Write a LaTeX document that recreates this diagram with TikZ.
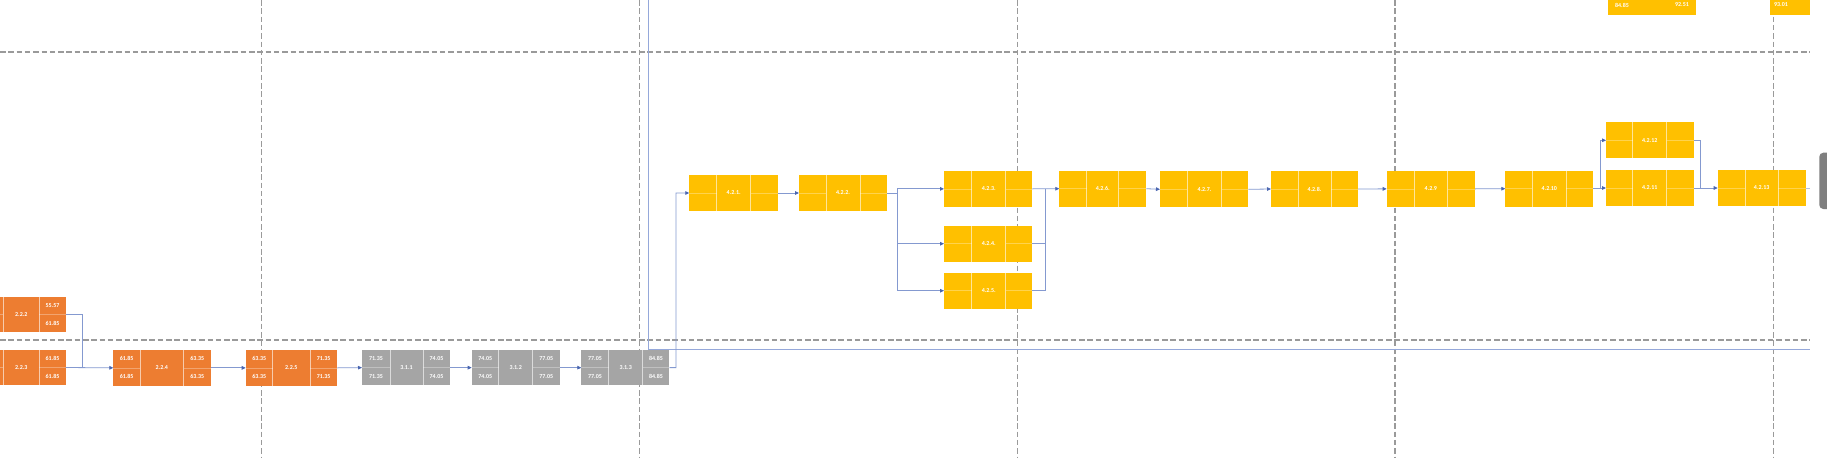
\documentclass[tikz,border=0pt]{standalone}
\usepackage{fontspec}
\newfontfamily\carl{Carlito}
\usetikzlibrary{arrows.meta,calc}
\definecolor{orng}{HTML}{ED7D31}
\definecolor{gry}{HTML}{A5A5A5}
\definecolor{ylw}{HTML}{FFC000}
\definecolor{connc}{HTML}{8499D0}
\definecolor{tipc}{HTML}{4A66B0}
\definecolor{gridc}{HTML}{9A9A9A}
\definecolor{barc}{HTML}{7F7F7F}
\definecolor{nowc}{HTML}{95A8DA}
\tikzset{
  taskbox/.style={draw=none,inner sep=0pt,outer sep=0pt},
  divline/.style={draw=white,draw opacity=0.6,line width=0.7pt},
  hdivline/.style={draw=white,draw opacity=0.3,line width=0.6pt},
  lbl/.style={text=white,font=\carl\bfseries\fontsize{6}{7}\selectfont,inner sep=0pt},
  val/.style={text=white,font=\carl\bfseries\fontsize{6}{7}\selectfont,inner sep=0pt},
  conn/.style={draw=connc,line width=0.8pt,-{Triangle[length=4pt,width=3.6pt,color=tipc]}},
  connline/.style={draw=connc,line width=0.8pt},
  gridline/.style={draw=gridc,line width=1.5pt,dash pattern=on 5.5pt off 2.8pt},
  nowline/.style={draw=nowc,line width=0.8pt},
}
\newcommand\tbox[9]{%
  \pgfmathsetmacro\tbym{(#3+#5)/2}%
  \node[taskbox,fill=#8,minimum width={#4pt-#2pt},minimum height={#5pt-#3pt},anchor=north west] (#1) at (#2,#3) {};
  \draw[divline] (#6,#3) -- (#6,#5) (#7,#3) -- (#7,#5);
  \draw[hdivline] (#2,\tbym) -- (#6,\tbym) (#7,\tbym) -- (#4,\tbym);
  \node[lbl] (#1-l) at ({(#6+#7)/2},\tbym) {#9};
  \xdef\tbxa{#2}\xdef\tbxl{#6}\xdef\tbxr{#7}\xdef\tbxb{#4}\xdef\tbya{#3}\xdef\tbyb{#5}}
\newcommand\lvals[3]{%
  \node[val] (#1-tl) at ({(\tbxa+\tbxl)/2},{(3*\tbya+\tbyb)/4}) {#2};
  \node[val] (#1-bl) at ({(\tbxa+\tbxl)/2},{(\tbya+3*\tbyb)/4}) {#3};}
\newcommand\rvals[3]{%
  \node[val] (#1-tr) at ({(\tbxr+\tbxb)/2},{(3*\tbya+\tbyb)/4}) {#2};
  \node[val] (#1-br) at ({(\tbxr+\tbxb)/2},{(\tbya+3*\tbyb)/4}) {#3};}
\begin{document}
\begin{tikzpicture}[x=1pt,y=-1pt]
\useasboundingbox (0,0) rectangle (1827,458);
\clip (0,0) rectangle (1827,458);
\fill[white] (0,0) rectangle (1827,458);
% grid lines
\draw[gridline] (0,52) -- (1810,52);
\draw[gridline] (0,340) -- (1810,340);
\foreach \gx in {261.5,639.7,1017.3,1395.2,1773.3}{\draw[gridline] (\gx,0) -- (\gx,458);}
% status line
\coordinate (t1) at (648.5,0);
\coordinate (t2) at (648.5,349);
\coordinate (t3) at (1810,349);
\draw[nowline] (t1) -- (t2) -- (t3);
% top right partial boxes
\node[taskbox,fill=ylw,minimum width=88pt,minimum height=25pt,anchor=south west] (pa) at (1608.3,14.7) {};
\node[val] (pa-l) at (1622,5) {84.85};
\node[val] (pa-r) at (1682,5) {92.51};
\node[taskbox,fill=ylw,minimum width=39.7pt,minimum height=25pt,anchor=south west] (pb) at (1770.3,14.7) {};
\node[val] (pb-l) at (1781,5) {93.01};
% orange boxes
\tbox{b222}{-24}{297}{65.7}{332}{3.3}{39.3}{orng}{2.2.2}
\rvals{b222}{55.57}{61.85}
\tbox{b223}{-24}{350}{65.7}{385}{3.3}{39.3}{orng}{2.2.3}
\rvals{b223}{61.85}{61.85}
\tbox{b224}{113.3}{350}{210.7}{385.7}{140}{183.7}{orng}{2.2.4}
\lvals{b224}{61.85}{61.85}\rvals{b224}{63.35}{63.35}
\tbox{b225}{245.7}{350}{337.3}{385.7}{272.7}{310}{orng}{2.2.5}
\lvals{b225}{63.35}{63.35}\rvals{b225}{71.35}{71.35}
% gray boxes
\tbox{b311}{362}{350}{450}{385.3}{390}{423}{gry}{3.1.1}
\lvals{b311}{71.35}{71.35}\rvals{b311}{74.05}{74.05}
\tbox{b312}{471.7}{350}{559.7}{385.3}{498.7}{532.7}{gry}{3.1.2}
\lvals{b312}{74.05}{74.05}\rvals{b312}{77.05}{77.05}
\tbox{b313}{581.3}{350}{669.3}{385.3}{608.7}{642.7}{gry}{3.1.3}
\lvals{b313}{77.05}{77.05}\rvals{b313}{84.85}{84.85}
% yellow boxes
\tbox{b421}{689.3}{175}{777.7}{211}{716.7}{750.7}{ylw}{4.2.1.}
\tbox{b422}{799}{175}{887}{211}{826}{860}{ylw}{4.2.2.}
\tbox{b423}{944}{171}{1032.3}{206.7}{971.7}{1005.7}{ylw}{4.2.3.}
\tbox{b424}{944}{225.7}{1032.3}{261.7}{971.7}{1005.7}{ylw}{4.2.4.}
\tbox{b425}{944}{272.7}{1032.3}{308.7}{971.7}{1005.7}{ylw}{4.2.5.}
\tbox{b426}{1059.3}{170.7}{1146.3}{206.7}{1086.7}{1118.7}{ylw}{4.2.6.}
\tbox{b427}{1160}{171.3}{1248.3}{207.3}{1187.3}{1221.7}{ylw}{4.2.7.}
\tbox{b428}{1271}{171}{1358}{207}{1298}{1331}{ylw}{4.2.8.}
\tbox{b429}{1386.7}{170.7}{1475}{207}{1414}{1447.7}{ylw}{4.2.9}
\tbox{b4210}{1505.3}{170.7}{1593.3}{206.7}{1532.3}{1566.3}{ylw}{4.2.10}
\tbox{b4212}{1606}{122.3}{1693.7}{158.3}{1632.7}{1666.7}{ylw}{4.2.12}
\tbox{b4211}{1606}{170}{1693.7}{206}{1632.7}{1666.7}{ylw}{4.2.11}
\tbox{b4213}{1717.7}{170}{1805.7}{206}{1745}{1778.3}{ylw}{4.2.13}
% scroll bar
\fill[barc,rounded corners=4pt] (1819.3,152.7) rectangle (1835,209);
% connectors
\coordinate (j1) at (82.3,367.6);
\draw[connline] (b222.east) -| (j1);
\draw[conn] (b223.east) -- (b224.west);
\draw[conn] (b224.east) -- (b225.west);
\draw[conn] (b225.east) -- (b311.west);
\draw[conn] (b311.east) -- (b312.west);
\draw[conn] (b312.east) -- (b313.west);
\coordinate (s3) at (676,367.6);
\draw[conn] (b313.east) -- (s3) |- (b421.west);
\draw[conn] (b421.east) -- (b422.west);
\coordinate (s1) at (897.3,193);
\draw[conn] (b422.east) -- (s1) |- (b423.west);
\draw[conn] (s1) |- (b424.west);
\draw[conn] (s1) |- (b425.west);
\coordinate (m1) at (1045.3,188.85);
\draw[connline] (b424.east) -| (m1);
\draw[connline] (b425.east) -| (m1);
\draw[conn] (b423.east) -- (b426.west);
\draw[conn] (b426.east) -- (b427.west);
\draw[conn] (b427.east) -- (b428.west);
\draw[conn] (b428.east) -- (b429.west);
\draw[conn] (b429.east) -- (b4210.west);
\coordinate (s2) at (1600,188.7);
\draw[conn] (b4210.east) -- (s2) |- (b4211.west);
\draw[conn] (s2) |- (b4212.west);
\coordinate (m2) at (1700,188);
\draw[connline] (b4212.east) -| (m2);
\draw[conn] (b4211.east) -- (b4213.west);
\coordinate (e1) at (1810,188);
\draw[draw=connc!60,line width=0.6pt] (b4213.east) -- (e1);
\end{tikzpicture}
\end{document}
